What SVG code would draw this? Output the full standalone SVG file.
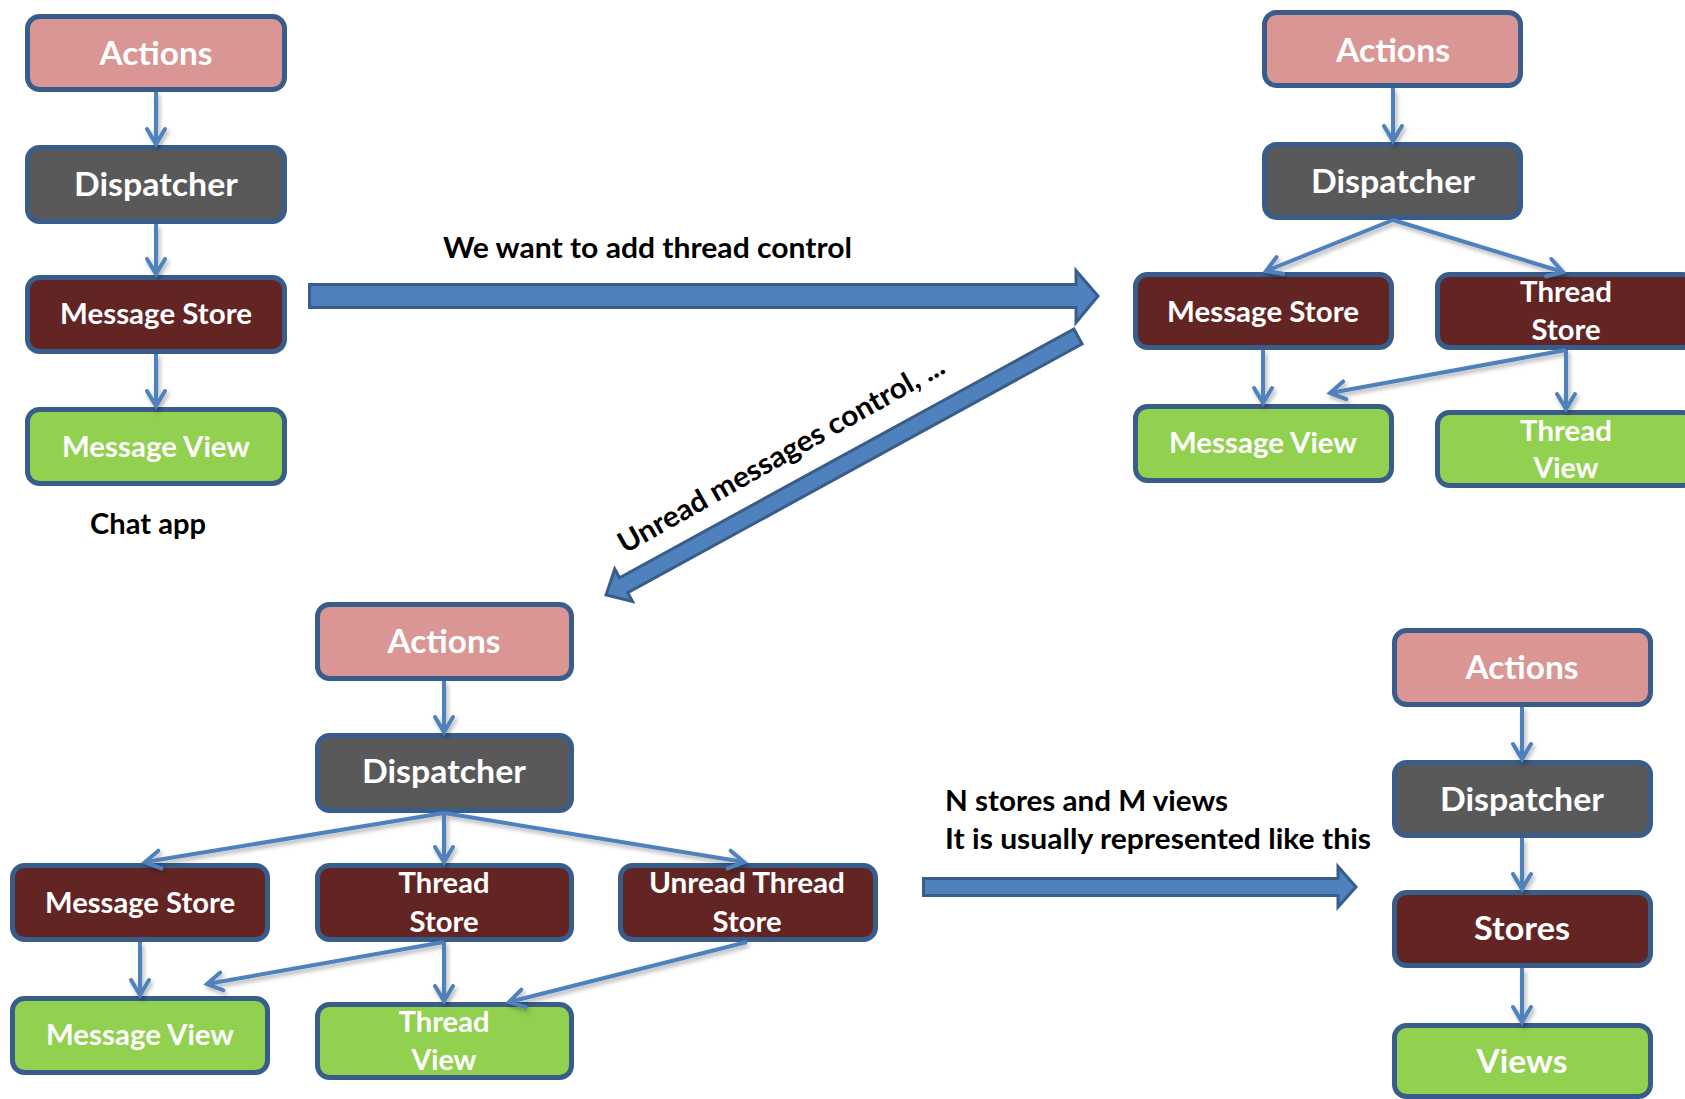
<svg xmlns="http://www.w3.org/2000/svg" width="1685" height="1099" viewBox="0 0 1685 1099">
<style>
.box{stroke:#385D8A;stroke-width:5}
.act{fill:#D99694}
.dis{fill:#595959}
.sto{fill:#632523}
.vie{fill:#92D050}
.t{font-family:Lato,"Open Sans","Liberation Sans",sans-serif;font-weight:bold;fill:#fff;text-anchor:middle}
.big{font-size:33px}
.mid{font-size:29px}
.lbl{font-family:Lato,"Open Sans","Liberation Sans",sans-serif;font-weight:bold;fill:#000;font-size:29px}
.con{stroke:#4F81BD;stroke-width:4;fill:none;marker-end:url(#ah)}
.blk{fill:#4F81BD;stroke:#385D8A;stroke-width:3}
</style>
<defs>
<marker id="ah" markerUnits="userSpaceOnUse" viewBox="-20 -20 40 40" markerWidth="40" markerHeight="40" refX="0" refY="0" orient="auto">
<path d="M-15,-9 L0,0 L-15,9" fill="none" stroke="#4F81BD" stroke-width="4" stroke-linecap="round"/>
</marker>
<filter id="sh" x="-20%" y="-20%" width="140%" height="140%">
<feDropShadow dx="2" dy="3" stdDeviation="2" flood-color="#000" flood-opacity="0.3"/>
</filter>
</defs>
<rect width="1685" height="1099" fill="#fff"/>

<!-- Top-left: Chat app -->
<g id="tl-actions"><rect class="box act" x="27.5" y="16.5" width="257" height="73" rx="12"/><text class="t big" x="156" y="65" textLength="113" lengthAdjust="spacingAndGlyphs">Actions</text></g>
<g id="tl-dispatcher"><rect class="box dis" x="27.5" y="147.5" width="257" height="74" rx="12"/><text class="t big" x="156" y="196" textLength="164" lengthAdjust="spacingAndGlyphs">Dispatcher</text></g>
<g id="tl-msgstore"><rect class="box sto" x="27.5" y="277.5" width="257" height="74" rx="12"/><text class="t mid" x="156" y="324" textLength="192" lengthAdjust="spacingAndGlyphs">Message Store</text></g>
<g id="tl-msgview"><rect class="box vie" x="27.5" y="409.5" width="257" height="74" rx="12"/><text class="t mid" x="156" y="457" textLength="188" lengthAdjust="spacingAndGlyphs">Message View</text></g>
<text id="chat-app" class="lbl" x="148" y="534" text-anchor="middle" textLength="116" lengthAdjust="spacingAndGlyphs">Chat app</text>

<!-- Top-right -->
<g id="tr-actions"><rect class="box act" x="1264.5" y="12.5" width="256" height="73" rx="12"/><text class="t big" x="1393" y="62" textLength="114" lengthAdjust="spacingAndGlyphs">Actions</text></g>
<g id="tr-dispatcher"><rect class="box dis" x="1264.5" y="144.5" width="256" height="73" rx="12"/><text class="t big" x="1393" y="193" textLength="164" lengthAdjust="spacingAndGlyphs">Dispatcher</text></g>
<g id="tr-msgstore"><rect class="box sto" x="1135.5" y="274.5" width="256" height="73" rx="12"/><text class="t mid" x="1263" y="322" textLength="192" lengthAdjust="spacingAndGlyphs">Message Store</text></g>
<g id="tr-threadstore"><rect class="box sto" x="1437.5" y="274.5" width="257" height="73" rx="12"/><text class="t mid" x="1566" y="302" textLength="92" lengthAdjust="spacingAndGlyphs">Thread</text><text class="t mid" x="1566" y="340" textLength="69" lengthAdjust="spacingAndGlyphs">Store</text></g>
<g id="tr-msgview"><rect class="box vie" x="1135.5" y="406.5" width="256" height="74" rx="12"/><text class="t mid" x="1263" y="453" textLength="188" lengthAdjust="spacingAndGlyphs">Message View</text></g>
<g id="tr-threadview"><rect class="box vie" x="1437.5" y="412.5" width="257" height="73" rx="12"/><text class="t mid" x="1566" y="441" textLength="92" lengthAdjust="spacingAndGlyphs">Thread</text><text class="t mid" x="1566" y="478" textLength="65" lengthAdjust="spacingAndGlyphs">View</text></g>

<!-- Bottom-left -->
<g id="bl-actions"><rect class="box act" x="317.5" y="604.5" width="254" height="74" rx="12"/><text class="t big" x="444" y="653" textLength="113" lengthAdjust="spacingAndGlyphs">Actions</text></g>
<g id="bl-dispatcher"><rect class="box dis" x="317.5" y="735.5" width="254" height="75" rx="12"/><text class="t big" x="444" y="783" textLength="164" lengthAdjust="spacingAndGlyphs">Dispatcher</text></g>
<g id="bl-msgstore"><rect class="box sto" x="12.5" y="865.5" width="255" height="74" rx="12"/><text class="t mid" x="140" y="913" textLength="190" lengthAdjust="spacingAndGlyphs">Message Store</text></g>
<g id="bl-threadstore"><rect class="box sto" x="317.5" y="865.5" width="254" height="74" rx="12"/><text class="t mid" x="444" y="893" textLength="91" lengthAdjust="spacingAndGlyphs">Thread</text><text class="t mid" x="444" y="932" textLength="69" lengthAdjust="spacingAndGlyphs">Store</text></g>
<g id="bl-unreadstore"><rect class="box sto" x="620.5" y="865.5" width="255" height="74" rx="12"/><text class="t mid" x="747" y="893" textLength="196" lengthAdjust="spacingAndGlyphs">Unread Thread</text><text class="t mid" x="747" y="932" textLength="69" lengthAdjust="spacingAndGlyphs">Store</text></g>
<g id="bl-msgview"><rect class="box vie" x="12.5" y="998.5" width="255" height="74" rx="12"/><text class="t mid" x="140" y="1045" textLength="188" lengthAdjust="spacingAndGlyphs">Message View</text></g>
<g id="bl-threadview"><rect class="box vie" x="317.5" y="1004.5" width="254" height="73" rx="12"/><text class="t mid" x="444" y="1032" textLength="91" lengthAdjust="spacingAndGlyphs">Thread</text><text class="t mid" x="444" y="1070" textLength="65" lengthAdjust="spacingAndGlyphs">View</text></g>

<!-- Bottom-right -->
<g id="br-actions"><rect class="box act" x="1394.5" y="630.5" width="256" height="74" rx="12"/><text class="t big" x="1522" y="679" textLength="113" lengthAdjust="spacingAndGlyphs">Actions</text></g>
<g id="br-dispatcher"><rect class="box dis" x="1394.5" y="762.5" width="256" height="73" rx="12"/><text class="t big" x="1522" y="811" textLength="164" lengthAdjust="spacingAndGlyphs">Dispatcher</text></g>
<g id="br-stores"><rect class="box sto" x="1394.5" y="892.5" width="256" height="73" rx="12"/><text class="t big" x="1522" y="940" textLength="96" lengthAdjust="spacingAndGlyphs">Stores</text></g>
<g id="br-views"><rect class="box vie" x="1394.5" y="1025.5" width="256" height="71" rx="12"/><text class="t big" x="1522" y="1073" textLength="91" lengthAdjust="spacingAndGlyphs">Views</text></g>

<!-- Connectors -->
<g id="connectors" filter="url(#sh)">
<line class="con" x1="156" y1="92" x2="156" y2="144"/>
<line class="con" x1="156" y1="224" x2="156" y2="274"/>
<line class="con" x1="156" y1="354" x2="156" y2="406"/>

<line class="con" x1="1393" y1="88" x2="1393" y2="141"/>
<line class="con" x1="1393" y1="220" x2="1266" y2="271"/>
<line class="con" x1="1393" y1="220" x2="1563" y2="272"/>
<line class="con" x1="1263" y1="350" x2="1263" y2="403"/>
<line class="con" x1="1566" y1="350" x2="1566" y2="409"/>
<line class="con" x1="1566" y1="350" x2="1330" y2="393"/>

<line class="con" x1="444" y1="681" x2="444" y2="732"/>
<line class="con" x1="444" y1="813" x2="145" y2="862"/>
<line class="con" x1="444" y1="813" x2="444" y2="862"/>
<line class="con" x1="444" y1="813" x2="744" y2="862"/>
<line class="con" x1="140" y1="942" x2="140" y2="995"/>
<line class="con" x1="444" y1="942" x2="444" y2="1001"/>
<line class="con" x1="444" y1="942" x2="207" y2="984"/>
<line class="con" x1="747" y1="942" x2="509" y2="1002"/>

<line class="con" x1="1522" y1="707" x2="1522" y2="759"/>
<line class="con" x1="1522" y1="838" x2="1522" y2="889"/>
<line class="con" x1="1522" y1="968" x2="1522" y2="1022"/>
</g>

<!-- Transition arrows -->
<g id="transitions">
<path class="blk" d="M309.5,284.5 H1076 V270.5 L1098,296 L1076,322.5 V307.5 H309.5 Z"/>
<path class="blk" transform="translate(1078,336.5) rotate(151.3)" d="M0,-8.5 H518 V-18.5 L538,0 L518,18.5 V8.5 H0 Z"/>
<path class="blk" d="M923.5,878.5 H1338 V866.5 L1356,887 L1338,907 V895.5 H923.5 Z"/>
</g>

<text id="lbl-thread" class="lbl" x="443" y="258" textLength="409" lengthAdjust="spacingAndGlyphs">We want to add thread control</text>
<text id="lbl-unread" class="lbl" transform="translate(786,463) rotate(-29.5)" x="0" y="0" text-anchor="middle" textLength="370" lengthAdjust="spacingAndGlyphs">Unread messages control, ...</text>
<text id="lbl-n1" class="lbl" x="945" y="811" textLength="283" lengthAdjust="spacingAndGlyphs">N stores and M views</text>
<text id="lbl-n2" class="lbl" x="945" y="849" textLength="426" lengthAdjust="spacingAndGlyphs">It is usually represented like this</text>
</svg>
